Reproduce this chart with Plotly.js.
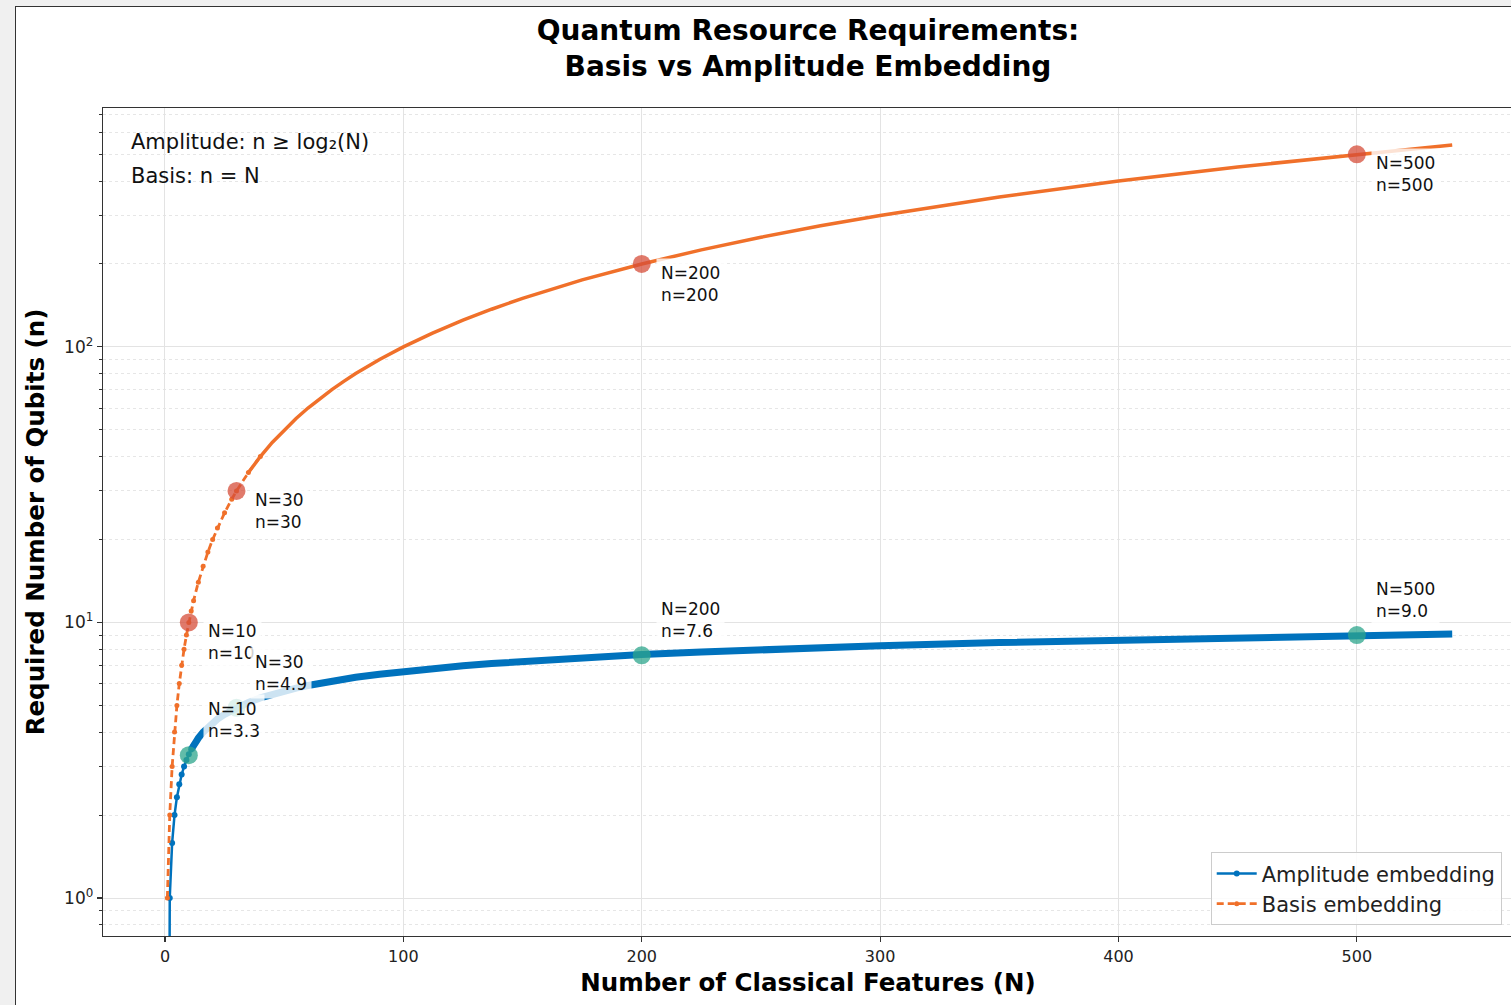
<!DOCTYPE html>
<html>
<head>
<meta charset="utf-8">
<script src="https://cdn.plot.ly/plotly-3.0.1.min.js"></script>
<style>
  html, body { margin: 0; padding: 0; background: #f0f0f0; overflow: hidden; width: 1511px; height: 1005px; }
  #frame { position: absolute; left: 15px; top: 6px; border-left: 1px solid #333; border-top: 1px solid #333; background: #fff; width: 1497px; height: 999px; }
  #plot { width: 1497px; height: 998px; }
</style>
</head>
<body>
<div id="frame"><div id="plot"></div></div>
<script>
// ---- data ----
const N_values = [1, 2, 3, 4, 5, 6, 7, 8, 9, 10, 11, 12, 14, 16, 18, 20, 22, 25, 28, 30, 35, 40, 45, 50, 55, 60, 65, 70, 75, 80, 90, 100, 112, 125, 137, 150, 175, 200, 225, 250, 275, 300, 350, 400, 450, 500, 540];
const amplitude_qubits = [0, 1, 1.585, 2, 2.322, 2.585, 2.807, 3, 3.17, 3.322, 3.459, 3.585, 3.807, 4, 4.17, 4.322, 4.459, 4.644, 4.807, 4.907, 5.129, 5.322, 5.492, 5.644, 5.781, 5.907, 6.022, 6.129, 6.229, 6.322, 6.492, 6.644, 6.807, 6.966, 7.098, 7.229, 7.451, 7.644, 7.814, 7.966, 8.103, 8.229, 8.451, 8.644, 8.814, 8.966, 9.077];
const basis_qubits = [1, 2, 3, 4, 5, 6, 7, 8, 9, 10, 11, 12, 14, 16, 18, 20, 22, 25, 28, 30, 35, 40, 45, 50, 55, 60, 65, 70, 75, 80, 90, 100, 112, 125, 137, 150, 175, 200, 225, 250, 275, 300, 350, 400, 450, 500, 540];

const highlight_N = [10, 30, 200, 500];
const highlight_amplitude = [3.3, 4.9, 7.6, 9.0];
const highlight_basis = [10, 30, 200, 500];

const x_tick_values = [0, 100, 200, 300, 400, 500];
const y_tick_values = [1, 10, 100];
const y_tick_labels = ['10<sup>0</sup>', '10<sup>1</sup>', '10<sup>2</sup>'];

const title_text = 'Quantum Resource Requirements:<br>Basis vs Amplitude Embedding';
const x_title = 'Number of Classical Features (N)';
const y_title = 'Required Number of Qubits (n)';
const info_lines = ['Amplitude: n ≥ log₂(N)', 'Basis: n = N'];
const series_names = ['Amplitude embedding', 'Basis embedding'];

// ---- styling ----
const FONT = 'DejaVu Sans, Verdana, sans-serif';
const BLUE = '#0072bd';
const ORANGE = '#f0702a';

// clip non-positive values like a log axis with clipping (drawn below the axis)
const ampPlot = amplitude_qubits.map(v => v > 0 ? v : 1e-3);

function pick(arr, cond) { return arr.filter((_, i) => cond(N_values[i])); }

const traces = [
  { // amplitude: thin line with visible markers (low N)
    x: pick(N_values, n => n <= 12), y: pick(ampPlot, n => n <= 12),
    mode: 'lines+markers', name: series_names[0],
    line: { color: BLUE, width: 2.5 },
    marker: { color: BLUE, size: 6 }
  },
  { // amplitude: dense marker band (high N)
    x: pick(N_values, n => n >= 11), y: pick(ampPlot, n => n >= 11),
    mode: 'lines', showlegend: false, hoverinfo: 'skip',
    line: { color: BLUE, width: 7 }
  },
  { // basis: dashed with markers (low N)
    x: pick(N_values, n => n <= 40), y: pick(basis_qubits, n => n <= 40),
    mode: 'lines+markers', name: series_names[1],
    line: { color: ORANGE, width: 2.8, dash: '7px,4px' },
    marker: { color: ORANGE, size: 5 }
  },
  { // basis: dense band (high N)
    x: pick(N_values, n => n >= 35), y: pick(basis_qubits, n => n >= 35),
    mode: 'lines', showlegend: false, hoverinfo: 'skip',
    line: { color: ORANGE, width: 3.5 }
  },
  { // highlighted amplitude points
    x: highlight_N, y: highlight_amplitude, mode: 'markers', showlegend: false,
    marker: { color: 'rgba(45,165,140,0.75)', size: 18, line: { width: 0 } }
  },
  { // highlighted basis points
    x: highlight_N, y: highlight_basis, mode: 'markers', showlegend: false,
    marker: { color: 'rgba(214,78,58,0.75)', size: 18, line: { width: 0 } }
  }
];

const annotations = [];
highlight_N.forEach((N, i) => {
  annotations.push({
    x: N, y: Math.log10(highlight_basis[i]), xref: 'x', yref: 'y',
    text: 'N=' + N + '<br>n=' + highlight_basis[i],
    showarrow: false, xanchor: 'left', yanchor: 'top', align: 'left',
    xshift: 14, yshift: 6,
    bgcolor: 'rgba(255,255,255,0.8)', borderpad: 4,
    font: { family: FONT, size: 17, color: '#111' }
  });
});
highlight_N.forEach((N, i) => {
  annotations.push({
    x: N, y: Math.log10(highlight_amplitude[i]), xref: 'x', yref: 'y',
    text: 'N=' + N + '<br>n=' + highlight_amplitude[i].toFixed(1),
    showarrow: false, xanchor: 'left', yanchor: 'bottom', align: 'left',
    xshift: 14, yshift: 9,
    bgcolor: 'rgba(255,255,255,0.8)', borderpad: 4,
    font: { family: FONT, size: 17, color: '#111' }
  });
});
info_lines.forEach((t, i) => {
  annotations.push({
    x: 0.0185, y: 1 - (34 + 34 * i) / 828, xref: 'paper', yref: 'paper',
    text: t, showarrow: false, xanchor: 'left', yanchor: 'middle', align: 'left',
    font: { family: FONT, size: 21, color: '#111' }
  });
});

// minor tick positions for the log axis (2..9 within each decade)
const minorVals = [];
[0.1, 1, 10, 100].forEach(d => { for (let k = 2; k <= 9; k++) minorVals.push(k * d); });

const layout = {
  width: 1497, height: 998,
  margin: { l: 87, r: 0, t: 101, b: 69, pad: 0 },
  paper_bgcolor: '#ffffff', plot_bgcolor: '#ffffff',
  font: { family: FONT, color: '#222' },
  title: {
    text: title_text, x: 0.5, xanchor: 'center', xref: 'paper',
    y: 1 - 33 / 998, yanchor: 'middle', yref: 'container',
    font: { family: FONT, size: 28, color: '#000', weight: 'bold' }
  },
  xaxis: {
    range: [-26, 565.5], tickvals: x_tick_values,
    ticks: 'outside', ticklen: 5, tickwidth: 1.2, tickcolor: '#333',
    tickfont: { family: FONT, size: 16, color: '#222' },
    showline: true, linecolor: '#333', linewidth: 1.3, mirror: true,
    showgrid: true, gridcolor: '#e3e3e3', gridwidth: 1,
    zeroline: false,
    title: { text: x_title, standoff: 9, font: { family: FONT, size: 24.5, color: '#000', weight: 'bold' } },
    automargin: false
  },
  yaxis: {
    type: 'log', range: [Math.log10(0.728), 2.867],
    tickmode: 'array', tickvals: y_tick_values, ticktext: y_tick_labels,
    ticks: 'outside', ticklen: 5, tickwidth: 1.2, tickcolor: '#333',
    tickfont: { family: FONT, size: 17, color: '#222' },
    showline: true, linecolor: '#333', linewidth: 1.3, mirror: true,
    showgrid: true, gridcolor: '#e3e3e3', gridwidth: 1,
    zeroline: false,
    minor: {
      tickmode: 'array', tickvals: minorVals,
      ticks: 'outside', ticklen: 3, tickwidth: 1, tickcolor: '#333',
      showgrid: true, gridcolor: '#e6e6e6', griddash: 'dot', gridwidth: 1
    },
    title: { text: y_title, standoff: 12, font: { family: FONT, size: 24.5, color: '#000', weight: 'bold' } },
    automargin: false
  },
  legend: {
    x: 0.992, xanchor: 'right', y: 0.013, yanchor: 'bottom',
    bgcolor: 'rgba(255,255,255,0.85)', bordercolor: '#cccccc', borderwidth: 1,
    font: { family: FONT, size: 21, color: '#222' },
    traceorder: 'normal', itemwidth: 40
  },
  annotations: annotations,
  showlegend: true
};

Plotly.newPlot('plot', traces, layout, { displayModeBar: false, staticPlot: true });
</script>
</body>
</html>
